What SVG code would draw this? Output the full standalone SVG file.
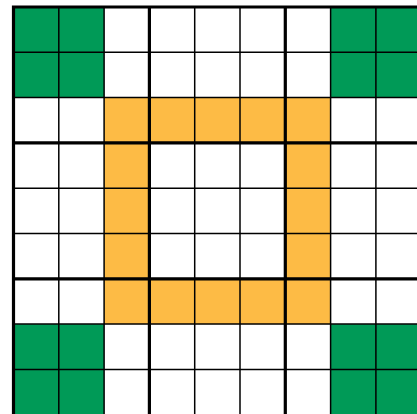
<svg xmlns="http://www.w3.org/2000/svg" width="417" height="414" viewBox="0 0 417 414">
<style>
.g{fill:#009A57}
.o{fill:#FDBB45}
.thin{stroke:#000;stroke-width:1.5}
.thick{stroke:#000;stroke-width:3.2}
</style>
<rect width="417" height="414" fill="#fff"/>
<g id="cells">
<rect class="g" x="13.5" y="7" width="90.6" height="90.6"/>
<rect class="g" x="330.6" y="7" width="90.6" height="90.6"/>
<rect class="g" x="13.5" y="324.1" width="90.6" height="90.6"/>
<rect class="g" x="330.6" y="324.1" width="90.6" height="90.6"/>
<rect class="o" x="104.1" y="97.6" width="226.5" height="45.3"/>
<rect class="o" x="104.1" y="278.8" width="226.5" height="45.3"/>
<rect class="o" x="104.1" y="142.9" width="45.3" height="135.9"/>
<rect class="o" x="285.3" y="142.9" width="45.3" height="135.9"/>
</g>
<g id="grid">
<path class="thin" d="M58.8 7V421M104.1 7V421M194.7 7V421M240 7V421M330.6 7V421M375.9 7V421M13.5 52.3H421M13.5 97.6H421M13.5 188.2H421M13.5 233.5H421M13.5 324.1H421M13.5 369.4H421"/>
<path class="thick" d="M13.5 5.4V421M149.4 7V421M285.3 7V421M11.9 7H421M13.5 142.9H421M13.5 278.8H421"/>
</g>
</svg>
